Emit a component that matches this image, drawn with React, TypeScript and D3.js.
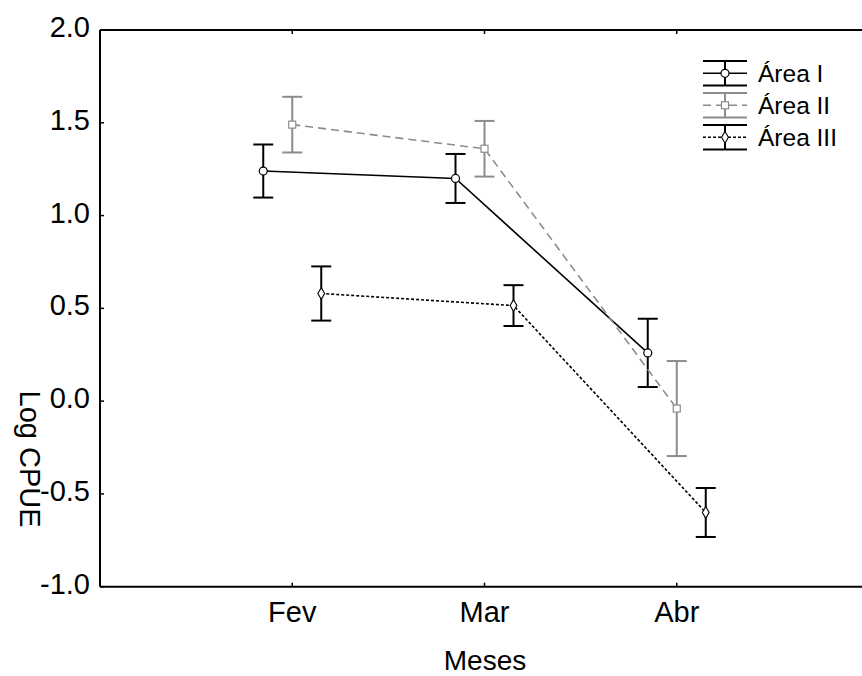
import React from 'react'
import * as d3 from 'd3'

const months = ['Fev', 'Mar', 'Abr']
const areas = ['Área I', 'Área II', 'Área III']
const meanI = [1.24, 1.20, 0.26]
const errI = [0.143, 0.132, 0.184]
const meanII = [1.49, 1.36, -0.04]
const errII = [0.15, 0.15, 0.256]
const meanIII = [0.58, 0.515, -0.60]
const errIII = [0.146, 0.11, 0.132]
const yTicks = [-1.0, -0.5, 0.0, 0.5, 1.0, 1.5, 2.0]

const W = 862
const H = 676
const left = 100
const right = 869
const top = 30
const bottom = 586.7
const font = 'Arial, "Liberation Sans", sans-serif'

const series = [
    { name: areas[0], mean: meanI, err: errI, color: '#000', dash: null, marker: 'circle' },
    { name: areas[1], mean: meanII, err: errII, color: '#8c8c8c', dash: '8,5', marker: 'square' },
    { name: areas[2], mean: meanIII, err: errIII, color: '#000', dash: '3,2', marker: 'diamond' }
]

const Marker = ({ type, x, y, color }: { type: string, x: number, y: number, color: string }) => {
    if (type === 'circle') return <circle cx={x} cy={y} r={4} fill="#fff" stroke={color} strokeWidth={1.2} />
    if (type === 'square') return <rect x={x - 3.5} y={y - 3.5} width={7} height={7} fill="#fff" stroke={color} strokeWidth={1.2} />
    const s = d3.symbol(d3.symbolDiamond, 40)()
    return <path d={s || ''} transform={`translate(${x},${y})`} fill="#fff" stroke={color} strokeWidth={1.1} />
}

const App = () => {
    const xScale = d3.scalePoint().domain(months).range([left, right]).padding(1)
    const offset = d3.scalePoint().domain(areas).range([-29, 29])
    const yScale = d3.scaleLinear().domain([-1, 2]).range([bottom, top])

    return (
        <svg width={W} height={H} style={{ position: 'absolute', left: 0, top: 0, background: '#fff' }}>
            {/* frame */}
            <line x1={left} x2={left} y1={top} y2={bottom} stroke="#000" strokeWidth={2} />
            <line x1={left} x2={right} y1={top} y2={top} stroke="#000" strokeWidth={2} />
            <line x1={left} x2={right} y1={bottom} y2={bottom} stroke="#000" strokeWidth={2} />

            {yTicks.map(t => (
                <g key={t}>
                    <line x1={left} x2={left + 4} y1={yScale(t)} y2={yScale(t)} stroke="#000" strokeWidth={1.5} />
                    <text x={left - 10} y={yScale(t) + 7} textAnchor="end" fontFamily={font} fontSize={29}>{t.toFixed(1)}</text>
                </g>
            ))}
            {months.map(m => (
                <g key={m}>
                    <line x1={xScale(m)} x2={xScale(m)} y1={bottom} y2={bottom - 4} stroke="#000" strokeWidth={1.5} />
                    <line x1={xScale(m)} x2={xScale(m)} y1={top} y2={top + 4} stroke="#000" strokeWidth={1.5} />
                    <text x={xScale(m)} y={621.5} textAnchor="middle" fontFamily={font} fontSize={29}>{m}</text>
                </g>
            ))}
            <text x={485} y={670} textAnchor="middle" fontFamily={font} fontSize={28}>Meses</text>
            <text transform="translate(20,459) rotate(90)" textAnchor="middle" fontFamily={font} fontSize={29}>Log CPUE</text>

            {series.map(s => {
                const pts = s.mean.map((v, i) => [(xScale(months[i]) as number) + (offset(s.name) as number), yScale(v)] as [number, number])
                return (
                    <g key={s.name}>
                        <path d={d3.line()(pts) || ''} fill="none" stroke={s.color} strokeWidth={1.6} strokeDasharray={s.dash || undefined} />
                        {pts.map(([x], i) => {
                            const y0 = yScale(s.mean[i] + s.err[i])
                            const y1 = yScale(s.mean[i] - s.err[i])
                            return (
                                <g key={i} stroke={s.color} strokeWidth={2}>
                                    <line x1={x} x2={x} y1={y0} y2={y1} />
                                    <line x1={x - 10} x2={x + 10} y1={y0} y2={y0} />
                                    <line x1={x - 10} x2={x + 10} y1={y1} y2={y1} />
                                </g>
                            )
                        })}
                        {pts.map(([x, y], i) => <Marker key={i} type={s.marker} x={x} y={y} color={s.color} />)}
                    </g>
                )
            })}

            {/* legend */}
            {series.map((s, i) => {
                const cy = 73.3 + i * 32
                return (
                    <g key={s.name}>
                        <line x1={703} x2={747} y1={cy - 12.3} y2={cy - 12.3} stroke={s.color} strokeWidth={2} />
                        <line x1={703} x2={747} y1={cy + 12.3} y2={cy + 12.3} stroke={s.color} strokeWidth={2} />
                        <line x1={725} x2={725} y1={cy - 12.3} y2={cy + 12.3} stroke={s.color} strokeWidth={2} />
                        <line x1={703} x2={747} y1={cy} y2={cy} stroke={s.color} strokeWidth={1.6} strokeDasharray={s.dash || undefined} />
                        <Marker type={s.marker} x={725} y={cy} color={s.color} />
                        <text x={758} y={cy + 8.5} fontFamily={font} fontSize={24.5}>{s.name}</text>
                    </g>
                )
            })}
        </svg>
    )
}

export default App
